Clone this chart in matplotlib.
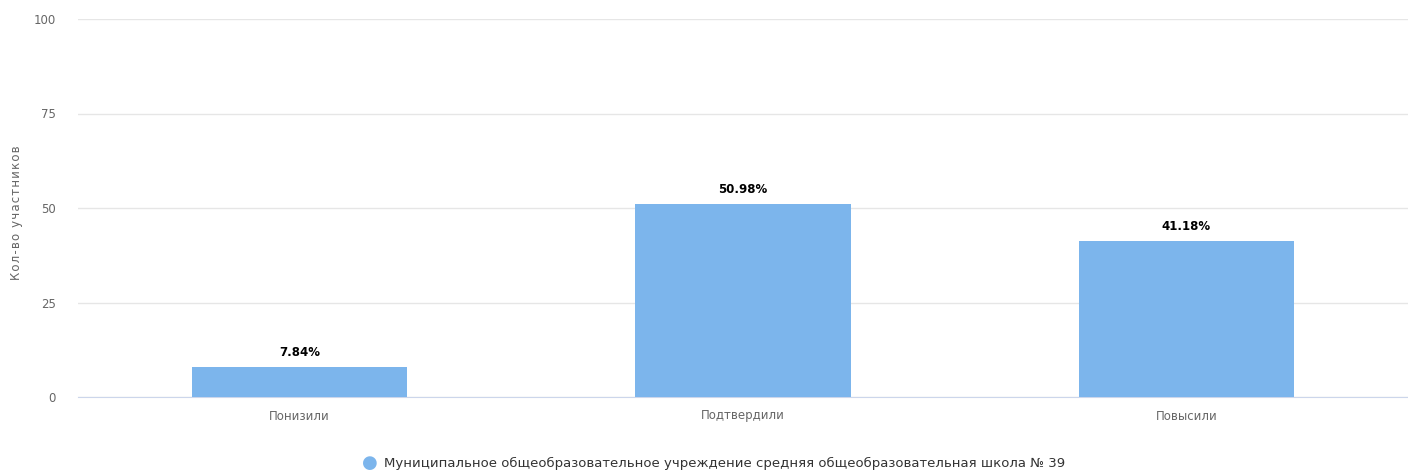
import matplotlib
matplotlib.use("Agg")
import matplotlib.pyplot as plt
import numpy as np

categories = ["Понизили", "Подтвердили", "Повысили"]
values = [7.84, 50.98, 41.18]
labels = ["7.84%", "50.98%", "41.18%"]
series_name = "Муниципальное общеобразовательное учреждение средняя общеобразовательная школа № 39"
y_title = "Кол-во участников"
yticks = [0, 25, 50, 75, 100]

plt.rcParams['font.family'] = ['DejaVu Sans']

fig = plt.figure(figsize=(14.08, 4.71), dpi=100)
ax = fig.add_axes([78/1408, 1 - 397/471, 1330/1408, 378/471])

x = np.arange(len(categories))
bars = ax.bar(x, values, width=0.485, color="#7cb5ec", zorder=3)
for b, lab in zip(bars, labels):
    ax.text(b.get_x() + b.get_width()/2, b.get_height() + 2.2, lab,
            ha="center", va="bottom", fontsize=8.5, fontweight="bold", color="#000000")

ax.set_xlim(-0.5, 2.5)
ax.set_ylim(0, 100)
ax.set_yticks(yticks)
ax.set_yticklabels([str(t) for t in yticks], fontsize=8.5, color="#666666")
ax.set_xticks(x)
ax.set_xticklabels(categories, fontsize=8.5, color="#666666")
ax.tick_params(axis="both", length=0)
ax.tick_params(axis="y", pad=16)
ax.tick_params(axis="x", pad=9)
ax.grid(axis="y", color="#e6e6e6", linewidth=1, zorder=0)
for s in ["top", "right", "left"]:
    ax.spines[s].set_visible(False)
ax.spines["bottom"].set_color("#ccd6eb")

# spaced-out axis title, placed by hand so it stays inside the figure
fig.text(17/1408, 1 - 213/471, "\u200a".join(y_title), fontsize=8.5, color="#666666",
         rotation=90, ha="center", va="center")

fig.text(370/1408, 1 - 463/471, "●", color="#7cb5ec", fontsize=13,
         ha="center", va="center")
fig.text(384/1408, 1 - 463/471, series_name, fontsize=9.5, color="#333333",
         ha="left", va="center")

fig.savefig("out.png", dpi=100)
